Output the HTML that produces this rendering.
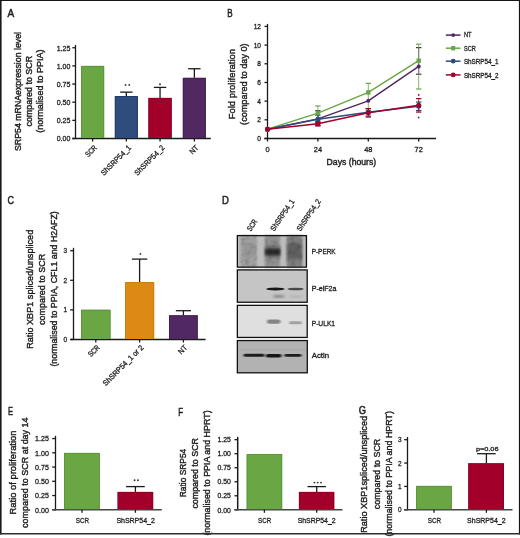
<!DOCTYPE html>
<html><head><meta charset="utf-8"><style>
html,body{margin:0;padding:0;background:#fff;}
body{width:520px;height:538px;overflow:hidden;}
svg{display:block;font-family:"Liberation Sans", sans-serif;will-change:transform;}
text{stroke:#1e1e1e;}
</style></head><body>
<svg width="520" height="538" viewBox="0 0 520 538">
<rect x="0" y="0" width="520" height="538" fill="#fff"/>
<text x="7.6" y="16.9" font-size="11" text-anchor="start" fill="#1e1e1e" stroke-width="0.5" textLength="6.7" lengthAdjust="spacingAndGlyphs" >A</text>
<line x1="75.5" y1="45.0" x2="75.5" y2="139.1" stroke="#1a1a1a" stroke-width="1.3" />
<line x1="72.3" y1="138.5" x2="75.5" y2="138.5" stroke="#1a1a1a" stroke-width="1.3" />
<text x="70.402" y="141.4" font-size="7.5" text-anchor="end" fill="#1e1e1e" stroke-width="0.3" textLength="13.702" lengthAdjust="spacingAndGlyphs" >0.00</text>
<line x1="72.3" y1="120.35" x2="75.5" y2="120.35" stroke="#1a1a1a" stroke-width="1.3" />
<text x="70.402" y="123.25" font-size="7.5" text-anchor="end" fill="#1e1e1e" stroke-width="0.3" textLength="13.702" lengthAdjust="spacingAndGlyphs" >0.25</text>
<line x1="72.3" y1="102.2" x2="75.5" y2="102.2" stroke="#1a1a1a" stroke-width="1.3" />
<text x="70.402" y="105.10000000000001" font-size="7.5" text-anchor="end" fill="#1e1e1e" stroke-width="0.3" textLength="13.702" lengthAdjust="spacingAndGlyphs" >0.50</text>
<line x1="72.3" y1="84.05000000000001" x2="75.5" y2="84.05000000000001" stroke="#1a1a1a" stroke-width="1.3" />
<text x="70.402" y="86.95000000000002" font-size="7.5" text-anchor="end" fill="#1e1e1e" stroke-width="0.3" textLength="13.702" lengthAdjust="spacingAndGlyphs" >0.75</text>
<line x1="72.3" y1="65.9" x2="75.5" y2="65.9" stroke="#1a1a1a" stroke-width="1.3" />
<text x="70.402" y="68.80000000000001" font-size="7.5" text-anchor="end" fill="#1e1e1e" stroke-width="0.3" textLength="13.702" lengthAdjust="spacingAndGlyphs" >1.00</text>
<line x1="72.3" y1="47.75" x2="75.5" y2="47.75" stroke="#1a1a1a" stroke-width="1.3" />
<text x="70.402" y="50.65" font-size="7.5" text-anchor="end" fill="#1e1e1e" stroke-width="0.3" textLength="13.702" lengthAdjust="spacingAndGlyphs" >1.25</text>
<line x1="72.3" y1="138.5" x2="210.8" y2="138.5" stroke="#1a1a1a" stroke-width="1.3" />
<rect x="81.0" y="65.9" width="23.200000000000003" height="72.1" fill="#6aa744"/>
<path d="M81.5,138.0 V66.4 H103.7 V138.0" fill="none" stroke="#4f8a2a" stroke-width="1" opacity="0.55"/>
<line x1="92.6" y1="138.5" x2="92.6" y2="141.5" stroke="#1a1a1a" stroke-width="1.3" />
<rect x="114.8" y="96.0" width="23.10000000000001" height="42.0" fill="#2e4c7c"/>
<path d="M115.3,138.0 V96.5 H137.4 V138.0" fill="none" stroke="#142f62" stroke-width="1" opacity="0.55"/>
<line x1="126.35" y1="92.15" x2="126.35" y2="96.0" stroke="#1a1a1a" stroke-width="1.3" />
<line x1="120.14999999999999" y1="92.15" x2="132.54999999999998" y2="92.15" stroke="#1a1a1a" stroke-width="1.3" />
<line x1="126.35" y1="138.5" x2="126.35" y2="141.5" stroke="#1a1a1a" stroke-width="1.3" />
<rect x="148.3" y="97.9" width="23.5" height="40.099999999999994" fill="#a2002b"/>
<path d="M148.8,138.0 V98.4 H171.3 V138.0" fill="none" stroke="#7d0020" stroke-width="1" opacity="0.55"/>
<line x1="160.05" y1="87.4" x2="160.05" y2="97.9" stroke="#1a1a1a" stroke-width="1.3" />
<line x1="153.85000000000002" y1="87.4" x2="166.25" y2="87.4" stroke="#1a1a1a" stroke-width="1.3" />
<line x1="160.05" y1="138.5" x2="160.05" y2="141.5" stroke="#1a1a1a" stroke-width="1.3" />
<rect x="182.8" y="77.8" width="23.099999999999994" height="60.2" fill="#512862"/>
<path d="M183.3,138.0 V78.3 H205.4 V138.0" fill="none" stroke="#3a1050" stroke-width="1" opacity="0.55"/>
<line x1="194.35000000000002" y1="68.75" x2="194.35000000000002" y2="77.8" stroke="#1a1a1a" stroke-width="1.3" />
<line x1="188.15000000000003" y1="68.75" x2="200.55" y2="68.75" stroke="#1a1a1a" stroke-width="1.3" />
<line x1="194.35000000000002" y1="138.5" x2="194.35000000000002" y2="141.5" stroke="#1a1a1a" stroke-width="1.3" />
<circle cx="125.5" cy="84.9" r="0.95" fill="#333"/>
<circle cx="129.3" cy="84.9" r="0.95" fill="#333"/>
<circle cx="160.0" cy="84.25" r="0.95" fill="#333"/>
<text transform="translate(97.5,148.3) rotate(-45)" x="0" y="0" font-size="7.7" text-anchor="end" fill="#1e1e1e" stroke-width="0.3" textLength="13.0" lengthAdjust="spacingAndGlyphs">SCR</text>
<text transform="translate(131.5,148.3) rotate(-45)" x="0" y="0" font-size="7.7" text-anchor="end" fill="#1e1e1e" stroke-width="0.3" textLength="39.0" lengthAdjust="spacingAndGlyphs">ShSRP54_1</text>
<text transform="translate(165.0,148.3) rotate(-45)" x="0" y="0" font-size="7.7" text-anchor="end" fill="#1e1e1e" stroke-width="0.3" textLength="39.0" lengthAdjust="spacingAndGlyphs">ShSRP54_2</text>
<text transform="translate(199.0,148.3) rotate(-45)" x="0" y="0" font-size="7.7" text-anchor="end" fill="#1e1e1e" stroke-width="0.3" textLength="9.3" lengthAdjust="spacingAndGlyphs">NT</text>
<text transform="translate(20.9,91.5) rotate(-90)" x="0.001" y="0" font-size="8.6" text-anchor="middle" fill="#1e1e1e" stroke-width="0.4" textLength="119.001" lengthAdjust="spacingAndGlyphs">SRP54 mRNAexpression level</text>
<text transform="translate(32.1,91.2) rotate(-90)" x="-0.001" y="0" font-size="8.6" text-anchor="middle" fill="#1e1e1e" stroke-width="0.4" textLength="70.698" lengthAdjust="spacingAndGlyphs">compared to SCR</text>
<text transform="translate(43.3,91.1) rotate(-90)" x="-0.002" y="0" font-size="8.6" text-anchor="middle" fill="#1e1e1e" stroke-width="0.4" textLength="83.197" lengthAdjust="spacingAndGlyphs">(normalised to PPIA)</text>
<text x="227.2" y="16.9" font-size="11" text-anchor="start" fill="#1e1e1e" stroke-width="0.5" textLength="5.4" lengthAdjust="spacingAndGlyphs" >B</text>
<line x1="267.5" y1="23.9" x2="267.5" y2="139.0" stroke="#1a1a1a" stroke-width="1.3" />
<line x1="264.5" y1="138.5" x2="267.5" y2="138.5" stroke="#1a1a1a" stroke-width="1.3" />
<text x="261.0" y="141.15" font-size="7.4" text-anchor="end" fill="#1e1e1e" stroke-width="0.3" textLength="3.662845062500001" lengthAdjust="spacingAndGlyphs" >0</text>
<line x1="264.5" y1="119.82" x2="267.5" y2="119.82" stroke="#1a1a1a" stroke-width="1.3" />
<text x="261.0" y="122.47" font-size="7.4" text-anchor="end" fill="#1e1e1e" stroke-width="0.3" textLength="3.662845062500001" lengthAdjust="spacingAndGlyphs" >2</text>
<line x1="264.5" y1="101.14" x2="267.5" y2="101.14" stroke="#1a1a1a" stroke-width="1.3" />
<text x="261.0" y="103.79" font-size="7.4" text-anchor="end" fill="#1e1e1e" stroke-width="0.3" textLength="3.662845062500001" lengthAdjust="spacingAndGlyphs" >4</text>
<line x1="264.5" y1="82.46000000000001" x2="267.5" y2="82.46000000000001" stroke="#1a1a1a" stroke-width="1.3" />
<text x="261.0" y="85.11000000000001" font-size="7.4" text-anchor="end" fill="#1e1e1e" stroke-width="0.3" textLength="3.662845062500001" lengthAdjust="spacingAndGlyphs" >6</text>
<line x1="264.5" y1="63.78" x2="267.5" y2="63.78" stroke="#1a1a1a" stroke-width="1.3" />
<text x="261.0" y="66.43" font-size="7.4" text-anchor="end" fill="#1e1e1e" stroke-width="0.3" textLength="3.662845062500001" lengthAdjust="spacingAndGlyphs" >8</text>
<line x1="264.5" y1="45.099999999999994" x2="267.5" y2="45.099999999999994" stroke="#1a1a1a" stroke-width="1.3" />
<text x="261.0" y="47.74999999999999" font-size="7.4" text-anchor="end" fill="#1e1e1e" stroke-width="0.3" textLength="7.325690125000002" lengthAdjust="spacingAndGlyphs" >10</text>
<line x1="264.5" y1="26.42" x2="267.5" y2="26.42" stroke="#1a1a1a" stroke-width="1.3" />
<text x="261.0" y="29.07" font-size="7.4" text-anchor="end" fill="#1e1e1e" stroke-width="0.3" textLength="7.325690125000002" lengthAdjust="spacingAndGlyphs" >12</text>
<line x1="264.3" y1="138.5" x2="436.0" y2="138.5" stroke="#1a1a1a" stroke-width="1.3" />
<line x1="267.5" y1="138.5" x2="267.5" y2="141.5" stroke="#1a1a1a" stroke-width="1.3" />
<text x="267.5" y="151.9" font-size="7.4" text-anchor="middle" fill="#1e1e1e" stroke-width="0.3" >0</text>
<line x1="317.9" y1="138.5" x2="317.9" y2="141.5" stroke="#1a1a1a" stroke-width="1.3" />
<text x="317.9" y="151.9" font-size="7.4" text-anchor="middle" fill="#1e1e1e" stroke-width="0.3" >24</text>
<line x1="368.29999999999995" y1="138.5" x2="368.29999999999995" y2="141.5" stroke="#1a1a1a" stroke-width="1.3" />
<text x="368.29999999999995" y="151.9" font-size="7.4" text-anchor="middle" fill="#1e1e1e" stroke-width="0.3" >48</text>
<line x1="418.7" y1="138.5" x2="418.7" y2="141.5" stroke="#1a1a1a" stroke-width="1.3" />
<text x="418.7" y="151.9" font-size="7.4" text-anchor="middle" fill="#1e1e1e" stroke-width="0.3" >72</text>
<text x="351.399" y="164.7" font-size="8.4" text-anchor="middle" fill="#1e1e1e" stroke-width="0.4" textLength="49.597" lengthAdjust="spacingAndGlyphs" >Days (hours)</text>
<line x1="317.9" y1="125.424" x2="317.9" y2="110.6668" stroke="#512862" stroke-width="1.0" opacity="0.8"/>
<line x1="315.2" y1="125.424" x2="320.59999999999997" y2="125.424" stroke="#512862" stroke-width="1.2" />
<line x1="315.2" y1="110.6668" x2="320.59999999999997" y2="110.6668" stroke="#512862" stroke-width="1.2" />
<line x1="418.7" y1="74.24080000000001" x2="418.7" y2="47.62179999999999" stroke="#512862" stroke-width="1.0" opacity="0.8"/>
<line x1="416.0" y1="74.24080000000001" x2="421.4" y2="74.24080000000001" stroke="#512862" stroke-width="1.2" />
<line x1="416.0" y1="47.62179999999999" x2="421.4" y2="47.62179999999999" stroke="#512862" stroke-width="1.2" />
<line x1="317.9" y1="119.82" x2="317.9" y2="105.99680000000001" stroke="#6aa744" stroke-width="1.0" opacity="0.8"/>
<line x1="315.2" y1="119.82" x2="320.59999999999997" y2="119.82" stroke="#6aa744" stroke-width="1.2" />
<line x1="315.2" y1="105.99680000000001" x2="320.59999999999997" y2="105.99680000000001" stroke="#6aa744" stroke-width="1.2" />
<line x1="368.29999999999995" y1="110.48" x2="368.29999999999995" y2="83.394" stroke="#6aa744" stroke-width="1.0" opacity="0.8"/>
<line x1="365.59999999999997" y1="110.48" x2="370.99999999999994" y2="110.48" stroke="#6aa744" stroke-width="1.2" />
<line x1="365.59999999999997" y1="83.394" x2="370.99999999999994" y2="83.394" stroke="#6aa744" stroke-width="1.2" />
<line x1="418.7" y1="88.998" x2="418.7" y2="44.16600000000001" stroke="#6aa744" stroke-width="1.0" opacity="0.8"/>
<line x1="416.0" y1="88.998" x2="421.4" y2="88.998" stroke="#6aa744" stroke-width="1.2" />
<line x1="416.0" y1="44.16600000000001" x2="421.4" y2="44.16600000000001" stroke="#6aa744" stroke-width="1.2" />
<line x1="317.9" y1="122.622" x2="317.9" y2="115.2434" stroke="#2e4c7c" stroke-width="1.0" opacity="0.8"/>
<line x1="315.2" y1="122.622" x2="320.59999999999997" y2="122.622" stroke="#2e4c7c" stroke-width="1.2" />
<line x1="315.2" y1="115.2434" x2="320.59999999999997" y2="115.2434" stroke="#2e4c7c" stroke-width="1.2" />
<line x1="368.29999999999995" y1="116.084" x2="368.29999999999995" y2="108.612" stroke="#2e4c7c" stroke-width="1.0" opacity="0.8"/>
<line x1="365.59999999999997" y1="116.084" x2="370.99999999999994" y2="116.084" stroke="#2e4c7c" stroke-width="1.2" />
<line x1="365.59999999999997" y1="108.612" x2="370.99999999999994" y2="108.612" stroke="#2e4c7c" stroke-width="1.2" />
<line x1="418.7" y1="110.48" x2="418.7" y2="102.074" stroke="#2e4c7c" stroke-width="1.0" opacity="0.8"/>
<line x1="416.0" y1="110.48" x2="421.4" y2="110.48" stroke="#2e4c7c" stroke-width="1.2" />
<line x1="416.0" y1="102.074" x2="421.4" y2="102.074" stroke="#2e4c7c" stroke-width="1.2" />
<line x1="317.9" y1="125.9844" x2="317.9" y2="121.688" stroke="#a2002b" stroke-width="1.0" opacity="0.8"/>
<line x1="315.2" y1="125.9844" x2="320.59999999999997" y2="125.9844" stroke="#a2002b" stroke-width="1.2" />
<line x1="315.2" y1="121.688" x2="320.59999999999997" y2="121.688" stroke="#a2002b" stroke-width="1.2" />
<line x1="368.29999999999995" y1="117.018" x2="368.29999999999995" y2="108.612" stroke="#a2002b" stroke-width="1.0" opacity="0.8"/>
<line x1="365.59999999999997" y1="117.018" x2="370.99999999999994" y2="117.018" stroke="#a2002b" stroke-width="1.2" />
<line x1="365.59999999999997" y1="108.612" x2="370.99999999999994" y2="108.612" stroke="#a2002b" stroke-width="1.2" />
<line x1="418.7" y1="112.0678" x2="418.7" y2="98.6182" stroke="#a2002b" stroke-width="1.0" opacity="0.8"/>
<line x1="416.0" y1="112.0678" x2="421.4" y2="112.0678" stroke="#a2002b" stroke-width="1.2" />
<line x1="416.0" y1="98.6182" x2="421.4" y2="98.6182" stroke="#a2002b" stroke-width="1.2" />
<polyline points="267.50,129.16 317.90,118.89 368.30,100.86 418.70,66.40" fill="none" stroke="#512862" stroke-width="1.5"/>
<polyline points="267.50,129.16 317.90,113.10 368.30,92.45 418.70,60.70" fill="none" stroke="#6aa744" stroke-width="1.5"/>
<polyline points="267.50,129.16 317.90,119.35 368.30,112.35 418.70,106.28" fill="none" stroke="#2e4c7c" stroke-width="1.5"/>
<polyline points="267.50,129.16 317.90,123.84 368.30,112.81 418.70,105.34" fill="none" stroke="#a2002b" stroke-width="1.5"/>
<circle cx="267.5" cy="129.16" r="2.0" fill="#512862"/>
<circle cx="317.9" cy="118.886" r="2.0" fill="#512862"/>
<circle cx="368.29999999999995" cy="100.8598" r="2.0" fill="#512862"/>
<circle cx="418.7" cy="66.3952" r="2.0" fill="#512862"/>
<rect x="265.3" y="126.96" width="4.4" height="4.4" fill="#6aa744"/>
<rect x="315.7" y="110.8952" width="4.4" height="4.4" fill="#6aa744"/>
<rect x="366.09999999999997" y="90.2538" width="4.4" height="4.4" fill="#6aa744"/>
<rect x="416.5" y="58.4978" width="4.4" height="4.4" fill="#6aa744"/>
<circle cx="267.5" cy="129.16" r="2.5" fill="#2e4c7c"/>
<circle cx="317.9" cy="119.35300000000001" r="2.5" fill="#2e4c7c"/>
<circle cx="368.29999999999995" cy="112.348" r="2.5" fill="#2e4c7c"/>
<circle cx="418.7" cy="106.277" r="2.5" fill="#2e4c7c"/>
<circle cx="267.5" cy="129.16" r="2.5" fill="#a2002b"/>
<circle cx="317.9" cy="123.8362" r="2.5" fill="#a2002b"/>
<circle cx="368.29999999999995" cy="112.815" r="2.5" fill="#a2002b"/>
<circle cx="418.7" cy="105.343" r="2.5" fill="#a2002b"/>
<circle cx="418.7" cy="94.9" r="0.9" fill="#a2002b"/>
<circle cx="418.7" cy="117.5" r="0.9" fill="#2e4c7c"/>
<line x1="445.8" y1="35.1" x2="460.5" y2="35.1" stroke="#512862" stroke-width="1.5" />
<circle cx="453.2" cy="35.1" r="1.9" fill="#512862"/>
<text x="463.9" y="37.2" font-size="7.0" text-anchor="start" fill="#1e1e1e" stroke-width="0.3" textLength="7.7" lengthAdjust="spacingAndGlyphs" >NT</text>
<line x1="445.8" y1="48.2" x2="460.5" y2="48.2" stroke="#6aa744" stroke-width="1.5" />
<rect x="451.15" y="46.0" width="4.1" height="4.4" fill="#6aa744"/>
<text x="463.9" y="50.7" font-size="7.0" text-anchor="start" fill="#1e1e1e" stroke-width="0.3" textLength="11.902" lengthAdjust="spacingAndGlyphs" >SCR</text>
<line x1="445.8" y1="61.2" x2="460.5" y2="61.2" stroke="#2e4c7c" stroke-width="1.5" />
<circle cx="453.2" cy="61.2" r="2.4" fill="#2e4c7c"/>
<text x="463.9" y="63.5" font-size="7.0" text-anchor="start" fill="#1e1e1e" stroke-width="0.3" textLength="34.7" lengthAdjust="spacingAndGlyphs" >ShSRP54_1</text>
<line x1="445.8" y1="74.9" x2="460.5" y2="74.9" stroke="#a2002b" stroke-width="1.5" />
<circle cx="453.2" cy="74.9" r="2.4" fill="#a2002b"/>
<text x="463.9" y="77.5" font-size="7.0" text-anchor="start" fill="#1e1e1e" stroke-width="0.3" textLength="34.7" lengthAdjust="spacingAndGlyphs" >ShSRP54_2</text>
<text transform="translate(234.7,84.15) rotate(-90)" x="0.001" y="0" font-size="9.4" text-anchor="middle" fill="#1e1e1e" stroke-width="0.4" textLength="70.303" lengthAdjust="spacingAndGlyphs">Fold proliferation</text>
<text transform="translate(246.5,84.15) rotate(-90)" x="-0.001" y="0" font-size="9.4" text-anchor="middle" fill="#1e1e1e" stroke-width="0.4" textLength="81.498" lengthAdjust="spacingAndGlyphs">(compared to day 0)</text>
<text x="7.6" y="204.2" font-size="11" text-anchor="start" fill="#1e1e1e" stroke-width="0.5" textLength="6.5" lengthAdjust="spacingAndGlyphs" >C</text>
<line x1="73.5" y1="247.8" x2="73.5" y2="340.1" stroke="#1a1a1a" stroke-width="1.3" />
<line x1="70.2" y1="339.5" x2="73.5" y2="339.5" stroke="#1a1a1a" stroke-width="1.3" />
<text x="67.2" y="342.0" font-size="7.2" text-anchor="end" fill="#1e1e1e" stroke-width="0.3" textLength="3.6038925000000006" lengthAdjust="spacingAndGlyphs" >0</text>
<line x1="70.2" y1="309.9" x2="73.5" y2="309.9" stroke="#1a1a1a" stroke-width="1.3" />
<text x="67.2" y="312.4" font-size="7.2" text-anchor="end" fill="#1e1e1e" stroke-width="0.3" textLength="3.6038925000000006" lengthAdjust="spacingAndGlyphs" >1</text>
<line x1="70.2" y1="280.3" x2="73.5" y2="280.3" stroke="#1a1a1a" stroke-width="1.3" />
<text x="67.2" y="282.8" font-size="7.2" text-anchor="end" fill="#1e1e1e" stroke-width="0.3" textLength="3.6038925000000006" lengthAdjust="spacingAndGlyphs" >2</text>
<line x1="70.2" y1="250.7" x2="73.5" y2="250.7" stroke="#1a1a1a" stroke-width="1.3" />
<text x="67.2" y="253.2" font-size="7.2" text-anchor="end" fill="#1e1e1e" stroke-width="0.3" textLength="3.6038925000000006" lengthAdjust="spacingAndGlyphs" >3</text>
<line x1="70.2" y1="339.5" x2="205.6" y2="339.5" stroke="#1a1a1a" stroke-width="1.3" />
<rect x="81.0" y="309.7" width="29.599999999999994" height="29.30000000000001" fill="#6aa744"/>
<path d="M81.5,339.0 V310.2 H110.1 V339.0" fill="none" stroke="#4f8a2a" stroke-width="1" opacity="0.55"/>
<line x1="95.8" y1="339.5" x2="95.8" y2="342.5" stroke="#1a1a1a" stroke-width="1.3" />
<rect x="125.0" y="282.0" width="29.19999999999999" height="57.0" fill="#dc8916"/>
<path d="M125.5,339.0 V282.5 H153.7 V339.0" fill="none" stroke="#c07505" stroke-width="1" opacity="0.55"/>
<line x1="139.6" y1="259.1" x2="139.6" y2="282.0" stroke="#1a1a1a" stroke-width="1.3" />
<line x1="131.9" y1="259.1" x2="147.29999999999998" y2="259.1" stroke="#1a1a1a" stroke-width="1.3" />
<line x1="139.6" y1="339.5" x2="139.6" y2="342.5" stroke="#1a1a1a" stroke-width="1.3" />
<rect x="169.0" y="315.2" width="28.80000000000001" height="23.80000000000001" fill="#512862"/>
<path d="M169.5,339.0 V315.7 H197.3 V339.0" fill="none" stroke="#3a1050" stroke-width="1" opacity="0.55"/>
<line x1="183.4" y1="310.7" x2="183.4" y2="315.2" stroke="#1a1a1a" stroke-width="1.3" />
<line x1="175.85" y1="310.7" x2="190.95000000000002" y2="310.7" stroke="#1a1a1a" stroke-width="1.3" />
<line x1="183.4" y1="339.5" x2="183.4" y2="342.5" stroke="#1a1a1a" stroke-width="1.3" />
<circle cx="140.4" cy="253.9" r="0.95" fill="#333"/>
<text transform="translate(100.2,348.1) rotate(-45)" x="0" y="0" font-size="7.6" text-anchor="end" fill="#1e1e1e" stroke-width="0.3" textLength="13.0" lengthAdjust="spacingAndGlyphs">SCR</text>
<text transform="translate(144.0,348.1) rotate(-45)" x="0" y="0" font-size="7.6" text-anchor="end" fill="#1e1e1e" stroke-width="0.3" textLength="54.0" lengthAdjust="spacingAndGlyphs">ShSRP54_1 or 2</text>
<text transform="translate(187.8,348.1) rotate(-45)" x="0" y="0" font-size="7.6" text-anchor="end" fill="#1e1e1e" stroke-width="0.3" textLength="9.3" lengthAdjust="spacingAndGlyphs">NT</text>
<text transform="translate(32.5,289.3) rotate(-90)" x="0.0" y="0" font-size="9.4" text-anchor="middle" fill="#1e1e1e" stroke-width="0.4" textLength="119.001" lengthAdjust="spacingAndGlyphs">Ratio XBP1 spliced/unspliced</text>
<text transform="translate(45.0,289.4) rotate(-90)" x="-0.001" y="0" font-size="9.4" text-anchor="middle" fill="#1e1e1e" stroke-width="0.4" textLength="71.198" lengthAdjust="spacingAndGlyphs">compared to SCR</text>
<text transform="translate(57.0,288.9) rotate(-90)" x="-0.001" y="0" font-size="9.4" text-anchor="middle" fill="#1e1e1e" stroke-width="0.4" textLength="155.398" lengthAdjust="spacingAndGlyphs">(normalised to PPIA, CFL1 and H2AFZ)</text>
<text x="222.0" y="203.9" font-size="11" text-anchor="start" fill="#1e1e1e" stroke-width="0.5" textLength="6.9" lengthAdjust="spacingAndGlyphs" >D</text>
<text transform="translate(250.7,231.8) rotate(-56)" x="0" y="0" font-size="7.6" text-anchor="start" fill="#1e1e1e" stroke-width="0.3" textLength="12.5" lengthAdjust="spacingAndGlyphs">SCR</text>
<text transform="translate(274.3,231.8) rotate(-56)" x="0" y="0" font-size="7.6" text-anchor="start" fill="#1e1e1e" stroke-width="0.3" textLength="36.7" lengthAdjust="spacingAndGlyphs">ShSRP54_1</text>
<text transform="translate(300.5,231.8) rotate(-56)" x="0" y="0" font-size="7.6" text-anchor="start" fill="#1e1e1e" stroke-width="0.3" textLength="36.7" lengthAdjust="spacingAndGlyphs">ShSRP54_2</text>
<defs><filter id="b1" x="-50%" y="-50%" width="200%" height="200%"><feGaussianBlur stdDeviation="0.9"/></filter><filter id="b2" x="-50%" y="-50%" width="200%" height="200%"><feGaussianBlur stdDeviation="1.4"/></filter><filter id="b3" x="-50%" y="-50%" width="200%" height="200%"><feGaussianBlur stdDeviation="0.6"/></filter><filter id="b4" x="-50%" y="-50%" width="200%" height="200%"><feGaussianBlur stdDeviation="0.8 0.5"/></filter></defs>
<rect x="237.35" y="235.6" width="69.85" height="31.549999999999983" fill="#bdbdbd"/>
<g filter="url(#b1)">
<rect x="240.4" y="235.6" width="16.400000000000006" height="31.549999999999983" fill="#a0a0a0"/>
<rect x="264.8" y="235.6" width="15.0" height="31.549999999999983" fill="#8f8f8f"/>
<rect x="286.8" y="235.6" width="15.399999999999977" height="31.549999999999983" fill="#7e7e7e"/>
</g>
<rect x="265.5" y="245.5" width="14.5" height="12" fill="#6a6a6a" filter="url(#b2)"/>
<rect x="265.2" y="248.9" width="15" height="6.2" fill="#2a2a2a" filter="url(#b1)"/>
<rect x="287.5" y="243" width="14" height="16" fill="#5e5e5e" filter="url(#b2)"/>
<rect x="243" y="243" width="12" height="14" fill="#969696" filter="url(#b2)"/>
<defs><filter id="nz" x="0" y="0" width="100%" height="100%"><feTurbulence type="fractalNoise" baseFrequency="0.22" numOctaves="2" seed="7" result="t"/><feColorMatrix type="matrix" values="0 0 0 0 0  0 0 0 0 0  0 0 0 0 0  0 0 0 -2.0 1.1"/><feGaussianBlur stdDeviation="0.5"/></filter><clipPath id="lanes"><rect x="239.5" y="236.3" width="18" height="30"/><rect x="264.5" y="236.3" width="16" height="30"/><rect x="286.3" y="236.3" width="16.5" height="30"/></clipPath></defs>
<g clip-path="url(#lanes)"><rect x="237" y="235" width="70" height="32" filter="url(#nz)" opacity="0.18"/></g>
<rect x="237.35" y="269.9" width="69.85" height="32.35000000000002" fill="#c5c5c5"/>
<ellipse cx="275.4" cy="289.0" rx="9.3" ry="1.55" fill="#161616" filter="url(#b3)"/>
<ellipse cx="295.6" cy="289.0" rx="8.2" ry="1.35" fill="#4a4a4a" filter="url(#b3)"/>
<ellipse cx="278.8" cy="296.3" rx="6.3" ry="1.3" fill="#808080" filter="url(#b1)"/>
<ellipse cx="296" cy="296.6" rx="7.5" ry="1.0" fill="#acacac" filter="url(#b1)"/>
<rect x="237.35" y="305.35" width="69.85" height="32.099999999999966" fill="#dfdfdf"/>
<rect x="267" y="319.5" width="13.5" height="4.2" rx="2" fill="#858585" filter="url(#b4)"/>
<rect x="289" y="321.2" width="13" height="3" rx="1.5" fill="#a2a2a2" filter="url(#b4)"/>
<rect x="237.35" y="340.55" width="69.85" height="32.25" fill="#b2b2b2"/>
<line x1="237.35" y1="349.9" x2="307.2" y2="349.9" stroke="#a3a3a3" stroke-width="0.8" />
<rect x="243.5" y="353.8" width="21" height="3.0" rx="1.5" fill="#1c1c1c" filter="url(#b4)"/>
<rect x="265.8" y="354.0" width="15.8" height="3.6" rx="1.8" fill="#141414" filter="url(#b4)"/>
<rect x="284.4" y="353.9" width="17" height="2.9" rx="1.4" fill="#1c1c1c" filter="url(#b4)"/>
<rect x="237.35" y="235.6" width="69.04999999999998" height="31.549999999999983" fill="none" stroke="#111" stroke-width="1.3"/>
<text x="311.7" y="253.9" font-size="7.1" text-anchor="start" fill="#1e1e1e" stroke-width="0.3" textLength="23.901" lengthAdjust="spacingAndGlyphs" >P-PERK</text>
<rect x="237.35" y="269.9" width="69.85" height="32.35000000000002" fill="none" stroke="#111" stroke-width="1.3"/>
<text x="311.7" y="291.4" font-size="7.1" text-anchor="start" fill="#1e1e1e" stroke-width="0.3" textLength="24.796" lengthAdjust="spacingAndGlyphs" >P-eiF2a</text>
<rect x="237.35" y="305.35" width="69.85" height="32.099999999999966" fill="none" stroke="#111" stroke-width="1.3"/>
<text x="311.7" y="325.8" font-size="7.1" text-anchor="start" fill="#1e1e1e" stroke-width="0.3" textLength="23.397" lengthAdjust="spacingAndGlyphs" >P-ULK1</text>
<rect x="237.35" y="340.55" width="69.95000000000002" height="32.25" fill="none" stroke="#111" stroke-width="1.3"/>
<text x="311.7" y="358.3" font-size="7.1" text-anchor="start" fill="#1e1e1e" stroke-width="0.3" textLength="17.401" lengthAdjust="spacingAndGlyphs" >Actin</text>
<text x="8.0" y="414.7" font-size="11.2" text-anchor="start" fill="#1e1e1e" stroke-width="0.5" textLength="5.0" lengthAdjust="spacingAndGlyphs" >E</text>
<line x1="55.5" y1="435.8" x2="55.5" y2="510.40000000000003" stroke="#1a1a1a" stroke-width="1.3" />
<line x1="52.2" y1="509.8" x2="55.5" y2="509.8" stroke="#1a1a1a" stroke-width="1.3" />
<text x="48.902" y="512.5" font-size="7.4" text-anchor="end" fill="#1e1e1e" stroke-width="0.3" textLength="13.802" lengthAdjust="spacingAndGlyphs" >0.00</text>
<line x1="52.2" y1="495.55" x2="55.5" y2="495.55" stroke="#1a1a1a" stroke-width="1.3" />
<text x="48.902" y="498.25" font-size="7.4" text-anchor="end" fill="#1e1e1e" stroke-width="0.3" textLength="13.802" lengthAdjust="spacingAndGlyphs" >0.25</text>
<line x1="52.2" y1="481.3" x2="55.5" y2="481.3" stroke="#1a1a1a" stroke-width="1.3" />
<text x="48.902" y="484.0" font-size="7.4" text-anchor="end" fill="#1e1e1e" stroke-width="0.3" textLength="13.802" lengthAdjust="spacingAndGlyphs" >0.50</text>
<line x1="52.2" y1="467.05" x2="55.5" y2="467.05" stroke="#1a1a1a" stroke-width="1.3" />
<text x="48.902" y="469.75" font-size="7.4" text-anchor="end" fill="#1e1e1e" stroke-width="0.3" textLength="13.802" lengthAdjust="spacingAndGlyphs" >0.75</text>
<line x1="52.2" y1="452.8" x2="55.5" y2="452.8" stroke="#1a1a1a" stroke-width="1.3" />
<text x="48.902" y="455.5" font-size="7.4" text-anchor="end" fill="#1e1e1e" stroke-width="0.3" textLength="13.802" lengthAdjust="spacingAndGlyphs" >1.00</text>
<line x1="52.2" y1="438.55" x2="55.5" y2="438.55" stroke="#1a1a1a" stroke-width="1.3" />
<text x="48.902" y="441.25" font-size="7.4" text-anchor="end" fill="#1e1e1e" stroke-width="0.3" textLength="13.802" lengthAdjust="spacingAndGlyphs" >1.25</text>
<line x1="52.2" y1="509.8" x2="161.8" y2="509.8" stroke="#444" stroke-width="1.5" />
<rect x="64.0" y="452.9" width="35.900000000000006" height="56.30000000000001" fill="#6aa744"/>
<path d="M64.5,509.2 V453.4 H99.4 V509.2" fill="none" stroke="#4f8a2a" stroke-width="1" opacity="0.55"/>
<rect x="117.5" y="491.9" width="35.69999999999999" height="17.30000000000001" fill="#a2002b"/>
<path d="M118.0,509.2 V492.4 H152.7 V509.2" fill="none" stroke="#7d0020" stroke-width="1" opacity="0.55"/>
<line x1="135.4" y1="486.6" x2="135.4" y2="491.9" stroke="#1a1a1a" stroke-width="1.3" />
<line x1="126.05000000000001" y1="486.6" x2="144.75" y2="486.6" stroke="#1a1a1a" stroke-width="1.3" />
<line x1="82.0" y1="509.8" x2="82.0" y2="512.8" stroke="#1a1a1a" stroke-width="1.3" />
<line x1="135.4" y1="509.8" x2="135.4" y2="512.8" stroke="#1a1a1a" stroke-width="1.3" />
<circle cx="134.6" cy="480.2" r="0.95" fill="#333"/>
<circle cx="137.9" cy="480.2" r="0.95" fill="#333"/>
<text x="82.351" y="523.1" font-size="7.6" text-anchor="middle" fill="#1e1e1e" stroke-width="0.3" textLength="13.302" lengthAdjust="spacingAndGlyphs" >SCR</text>
<text x="135.6" y="523.1" font-size="7.6" text-anchor="middle" fill="#1e1e1e" stroke-width="0.3" textLength="38.4" lengthAdjust="spacingAndGlyphs" >ShSRP54_2</text>
<text transform="translate(16.1,472.5) rotate(-90)" x="0.001" y="0" font-size="9.4" text-anchor="middle" fill="#1e1e1e" stroke-width="0.4" textLength="83.902" lengthAdjust="spacingAndGlyphs">Ratio of proliferation</text>
<text transform="translate(27.9,472.75) rotate(-90)" x="-0.0" y="0" font-size="9.4" text-anchor="middle" fill="#1e1e1e" stroke-width="0.4" textLength="110.499" lengthAdjust="spacingAndGlyphs">compared to SCR at day 14</text>
<text x="178.2" y="415.9" font-size="11" text-anchor="start" fill="#1e1e1e" stroke-width="0.5" textLength="4.8" lengthAdjust="spacingAndGlyphs" >F</text>
<line x1="237.7" y1="436.9" x2="237.7" y2="510.40000000000003" stroke="#1a1a1a" stroke-width="1.5" />
<line x1="234.5" y1="509.8" x2="237.7" y2="509.8" stroke="#1a1a1a" stroke-width="1.3" />
<text x="230.902" y="512.5" font-size="7.4" text-anchor="end" fill="#1e1e1e" stroke-width="0.3" textLength="13.402" lengthAdjust="spacingAndGlyphs" >0.00</text>
<line x1="234.5" y1="495.77500000000003" x2="237.7" y2="495.77500000000003" stroke="#1a1a1a" stroke-width="1.3" />
<text x="230.902" y="498.475" font-size="7.4" text-anchor="end" fill="#1e1e1e" stroke-width="0.3" textLength="13.402" lengthAdjust="spacingAndGlyphs" >0.25</text>
<line x1="234.5" y1="481.75" x2="237.7" y2="481.75" stroke="#1a1a1a" stroke-width="1.3" />
<text x="230.902" y="484.45" font-size="7.4" text-anchor="end" fill="#1e1e1e" stroke-width="0.3" textLength="13.402" lengthAdjust="spacingAndGlyphs" >0.50</text>
<line x1="234.5" y1="467.725" x2="237.7" y2="467.725" stroke="#1a1a1a" stroke-width="1.3" />
<text x="230.902" y="470.425" font-size="7.4" text-anchor="end" fill="#1e1e1e" stroke-width="0.3" textLength="13.402" lengthAdjust="spacingAndGlyphs" >0.75</text>
<line x1="234.5" y1="453.7" x2="237.7" y2="453.7" stroke="#1a1a1a" stroke-width="1.3" />
<text x="230.902" y="456.4" font-size="7.4" text-anchor="end" fill="#1e1e1e" stroke-width="0.3" textLength="13.402" lengthAdjust="spacingAndGlyphs" >1.00</text>
<line x1="234.5" y1="439.675" x2="237.7" y2="439.675" stroke="#1a1a1a" stroke-width="1.3" />
<text x="230.902" y="442.375" font-size="7.4" text-anchor="end" fill="#1e1e1e" stroke-width="0.3" textLength="13.402" lengthAdjust="spacingAndGlyphs" >1.25</text>
<line x1="234.5" y1="509.8" x2="342.5" y2="509.8" stroke="#444" stroke-width="1.5" />
<rect x="246.6" y="454.0" width="35.599999999999994" height="55.19999999999999" fill="#6aa744"/>
<path d="M247.1,509.2 V454.5 H281.7 V509.2" fill="none" stroke="#4f8a2a" stroke-width="1" opacity="0.55"/>
<rect x="298.9" y="491.9" width="35.400000000000034" height="17.30000000000001" fill="#a2002b"/>
<path d="M299.4,509.2 V492.4 H333.8 V509.2" fill="none" stroke="#7d0020" stroke-width="1" opacity="0.55"/>
<line x1="316.7" y1="486.6" x2="316.7" y2="491.9" stroke="#1a1a1a" stroke-width="1.3" />
<line x1="307.5" y1="486.6" x2="325.9" y2="486.6" stroke="#1a1a1a" stroke-width="1.3" />
<line x1="264.4" y1="509.8" x2="264.4" y2="512.8" stroke="#1a1a1a" stroke-width="1.3" />
<line x1="316.7" y1="509.8" x2="316.7" y2="512.8" stroke="#1a1a1a" stroke-width="1.3" />
<circle cx="314.4" cy="482.6" r="0.95" fill="#333"/>
<circle cx="317.7" cy="482.6" r="0.95" fill="#333"/>
<circle cx="321.0" cy="482.6" r="0.95" fill="#333"/>
<text x="264.651" y="523.1" font-size="7.6" text-anchor="middle" fill="#1e1e1e" stroke-width="0.3" textLength="13.102" lengthAdjust="spacingAndGlyphs" >SCR</text>
<text x="316.65" y="523.1" font-size="7.6" text-anchor="middle" fill="#1e1e1e" stroke-width="0.3" textLength="37.9" lengthAdjust="spacingAndGlyphs" >ShSRP54_2</text>
<text transform="translate(185.8,473.0) rotate(-90)" x="-0.001" y="0" font-size="9.4" text-anchor="middle" fill="#1e1e1e" stroke-width="0.4" textLength="48.498" lengthAdjust="spacingAndGlyphs">Ratio SRP54</text>
<text transform="translate(198.2,473.3) rotate(-90)" x="-0.001" y="0" font-size="9.4" text-anchor="middle" fill="#1e1e1e" stroke-width="0.4" textLength="70.598" lengthAdjust="spacingAndGlyphs">compared to SCR</text>
<text transform="translate(210.0,473.0) rotate(-90)" x="-0.001" y="0" font-size="9.4" text-anchor="middle" fill="#1e1e1e" stroke-width="0.4" textLength="125.198" lengthAdjust="spacingAndGlyphs">(normalised to PPIA and HPRT)</text>
<text x="358.8" y="414.4" font-size="10.3" text-anchor="start" fill="#1e1e1e" stroke-width="0.5" textLength="7.3" lengthAdjust="spacingAndGlyphs" >G</text>
<line x1="407.5" y1="437.0" x2="407.5" y2="510.40000000000003" stroke="#1a1a1a" stroke-width="1.3" />
<line x1="404.2" y1="509.8" x2="407.5" y2="509.8" stroke="#1a1a1a" stroke-width="1.3" />
<text x="401.6" y="512.3" font-size="7.2" text-anchor="end" fill="#1e1e1e" stroke-width="0.3" textLength="3.6038925000000006" lengthAdjust="spacingAndGlyphs" >0</text>
<line x1="404.2" y1="486.43" x2="407.5" y2="486.43" stroke="#1a1a1a" stroke-width="1.3" />
<text x="401.6" y="488.93" font-size="7.2" text-anchor="end" fill="#1e1e1e" stroke-width="0.3" textLength="3.6038925000000006" lengthAdjust="spacingAndGlyphs" >1</text>
<line x1="404.2" y1="463.06" x2="407.5" y2="463.06" stroke="#1a1a1a" stroke-width="1.3" />
<text x="401.6" y="465.56" font-size="7.2" text-anchor="end" fill="#1e1e1e" stroke-width="0.3" textLength="3.6038925000000006" lengthAdjust="spacingAndGlyphs" >2</text>
<line x1="404.2" y1="439.69" x2="407.5" y2="439.69" stroke="#1a1a1a" stroke-width="1.3" />
<text x="401.6" y="442.19" font-size="7.2" text-anchor="end" fill="#1e1e1e" stroke-width="0.3" textLength="3.6038925000000006" lengthAdjust="spacingAndGlyphs" >3</text>
<line x1="404.0" y1="509.8" x2="512.5" y2="509.8" stroke="#444" stroke-width="1.5" />
<rect x="416.0" y="485.9" width="35.89999999999998" height="23.30000000000001" fill="#6aa744"/>
<path d="M416.5,509.2 V486.4 H451.4 V509.2" fill="none" stroke="#4f8a2a" stroke-width="1" opacity="0.55"/>
<rect x="468.2" y="463.2" width="35.80000000000001" height="46.0" fill="#a2002b"/>
<path d="M468.7,509.2 V463.7 H503.5 V509.2" fill="none" stroke="#7d0020" stroke-width="1" opacity="0.55"/>
<line x1="486.4" y1="453.7" x2="486.4" y2="463.2" stroke="#1a1a1a" stroke-width="1.3" />
<line x1="477.09999999999997" y1="453.7" x2="495.7" y2="453.7" stroke="#1a1a1a" stroke-width="1.3" />
<line x1="434.0" y1="509.8" x2="434.0" y2="512.8" stroke="#1a1a1a" stroke-width="1.3" />
<line x1="486.4" y1="509.8" x2="486.4" y2="512.8" stroke="#1a1a1a" stroke-width="1.3" />
<text x="487.202" y="450.7" font-size="6.0" text-anchor="middle" fill="#1e1e1e" stroke-width="0.3" textLength="22.603" lengthAdjust="spacingAndGlyphs" >p=0.06</text>
<text x="434.451" y="523.1" font-size="7.6" text-anchor="middle" fill="#1e1e1e" stroke-width="0.3" textLength="13.402" lengthAdjust="spacingAndGlyphs" >SCR</text>
<text x="486.35" y="523.1" font-size="7.6" text-anchor="middle" fill="#1e1e1e" stroke-width="0.3" textLength="38.5" lengthAdjust="spacingAndGlyphs" >ShSRP54_2</text>
<text transform="translate(367.2,474.4) rotate(-90)" x="0.001" y="0" font-size="9.4" text-anchor="middle" fill="#1e1e1e" stroke-width="0.4" textLength="116.902" lengthAdjust="spacingAndGlyphs">Ratio XBP1spliced/unspliced</text>
<text transform="translate(380.2,474.0) rotate(-90)" x="-0.001" y="0" font-size="9.4" text-anchor="middle" fill="#1e1e1e" stroke-width="0.4" textLength="70.298" lengthAdjust="spacingAndGlyphs">compared to SCR</text>
<text transform="translate(391.5,473.8) rotate(-90)" x="-0.001" y="0" font-size="9.4" text-anchor="middle" fill="#1e1e1e" stroke-width="0.4" textLength="125.598" lengthAdjust="spacingAndGlyphs">(normalised to PPIA and HPRT)</text>
<line x1="0.8" y1="0" x2="0.8" y2="534.6" stroke="#1a1a1a" stroke-width="1.6"/>
<line x1="0" y1="0.55" x2="520" y2="0.55" stroke="#151515" stroke-width="1.1"/>
<line x1="519.45" y1="0" x2="519.45" y2="534.6" stroke="#151515" stroke-width="1.1"/>
<line x1="0" y1="533.75" x2="520" y2="533.75" stroke="#2e2e2e" stroke-width="1.7"/>
</svg>
</body></html>
